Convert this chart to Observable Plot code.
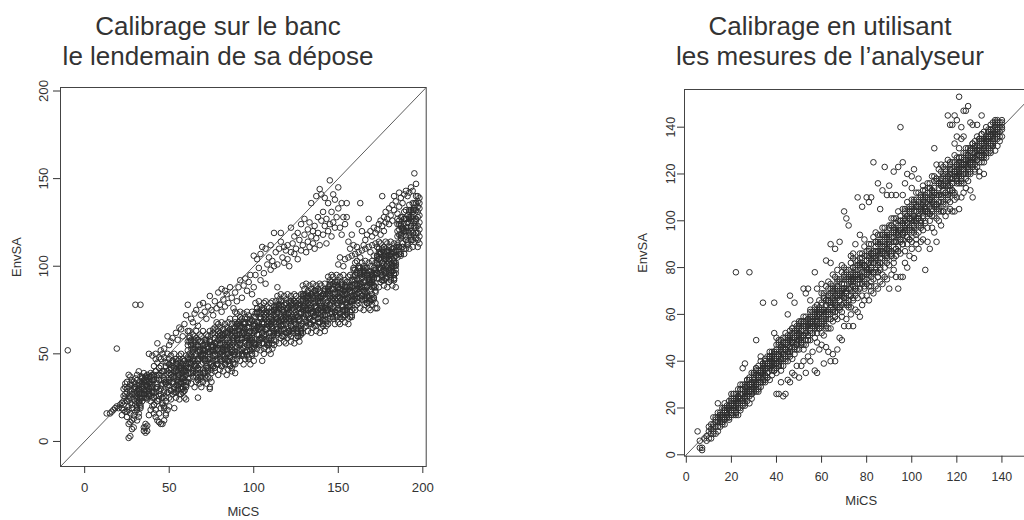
<!DOCTYPE html>
<html><head><meta charset="utf-8">
<script src="https://cdn.jsdelivr.net/npm/d3@7"></script>
<script src="https://cdn.jsdelivr.net/npm/@observablehq/plot@0.6"></script>
<style>
html,body{margin:0;padding:0;background:#fff;overflow:hidden;width:1024px;height:520px;}
#page{position:relative;width:1024px;height:520px;overflow:hidden;font-family:"Liberation Sans",Arial,Helvetica,sans-serif;}
.title{position:absolute;top:11px;width:400px;text-align:center;font-size:26px;line-height:30px;color:#333;}
.panel{position:absolute;top:80px;}
.panel svg{max-width:none !important;}
</style></head><body><div id="page">
<div class="title" id="t1" style="left:18px"></div>
<div class="title" id="t2" style="left:630px"></div>
<div class="panel" id="left" style="left:0;width:470px"></div>
<div class="panel" id="right" style="left:600px;width:450px"></div>
</div>
<script>
const titleLeft = ["Calibrage sur le banc", "le lendemain de sa dépose"];
const titleRight = ["Calibrage en utilisant", "les mesures de l’analyseur"];
const xLabel = "MiCS";
const yLabel = "EnvSA";
const leftTicks = [0, 50, 100, 150, 200];
const rightTicks = [0, 20, 40, 60, 80, 100, 120, 140];

// Each column: [MiCS, EnvSA values read around that MiCS value...]
const leftColumns = [
[-10,52],[13,16],[15,16],[16,17],[17,18],[18,19],[19,20,53],[20,19],[21,21],
[22,15,22,19],[23,23,26,30,21,18],[24,27,33,17,25,31],[25,23,30,17,28,34,14],[26,24,20,31,26,18,2,10,38],
[27,33,22,29,16,25,3,11,37],[28,35,27,19,21,32,7,12],[29,30,15,28,24,34,8,13],[30,17,31,23,26,33,78,36],
[31,20,25,29,18,35,12,38],[32,22,27,16,32,30,14,40],[33,19,24,28,34,21,78,37],[34,31,36,23,37,32,27],
[35,29,25,34,39,27,6,8],[36,33,37,25,29,35,5,8,10],[37,31,38,24,36,32,6,9],[38,26,33,37,30,28,15,50],
[39,39,23,33,37,34,18],[40,29,25,31,35,38,20,49],[41,25,38,21,43,35,16],[42,28,47,18,40,50,14],
[43,23,31,36,45,33,12,56],[44,26,42,16,48,38,11],[45,19,43,30,35,47,10,52],[46,25,33,40,21,50,10],
[47,40,19,35,48,28,12,53],[48,16,43,33,25,45,15],[49,40,28,50,36,32,60,18],[50,44,47,25,41,34,55,20],
[51,29,38,49,24,42,57],[52,46,33,37,27,45,59],[53,40,30,50,28,36,19],[54,41,47,32,44,25,62],
[55,37,46,29,40,34,58],[56,49,24,42,38,27,65],[57,45,33,50,30,41,64],[58,36,47,28,37,44,60],
[59,32,40,25,46,29,67],[60,49,38,34,42,24,72],[61,57,52,34,47,63,78],[62,39,50,42,60,36,63],
[63,55,45,33,58,49,70],[64,41,61,37,52,47,68],[65,31,57,44,53,60,73],[66,34,50,39,63,45,75],
[67,58,42,36,55,47,25,66],[68,61,33,52,41,57,78],[69,49,37,60,44,31,72],[70,53,50,63,34,45,79],
[71,58,55,39,47,52,74],[72,42,61,36,57,33,70],[73,49,60,41,53,37,77],[74,50,63,31,47,58,83,30],
[75,44,55,34,52,61,75],[76,52,46,62,55,43,72],[77,65,49,59,40,53,80],[78,68,56,44,47,64,76],
[79,61,38,58,52,67,85],[80,41,62,50,55,65,78],[81,46,53,59,43,68,87,74],[82,49,56,40,64,61,81],
[83,44,52,58,67,47,86,77],[84,53,62,38,65,55,84],[85,50,41,59,68,46,79],[86,56,64,43,49,61,88,70],
[87,53,67,40,62,55,82],[88,44,58,65,52,47,76],[89,74,44,62,70,65,85,39],[90,56,47,59,67,73,80],
[91,52,64,49,68,61,88],[92,55,71,46,65,74,92],[93,50,58,62,70,59,82],[94,53,67,44,73,63,89],
[95,47,68,56,61,71,93],[96,52,59,65,49,74,86],[97,65,47,60,72,55,91],[98,44,68,59,52,70,95],
[99,62,49,74,58,53,84],[100,67,71,46,63,56,106,88],[101,56,67,79,50,71,95],[102,76,61,65,53,74,104],
[103,68,58,80,55,64,99],[104,70,77,59,73,52,107,92],[105,65,76,56,68,62,111,46],[106,79,50,71,67,53,96],
[107,74,61,80,58,70,110,90],[108,64,77,55,65,73,101],[109,59,68,52,76,56,105],[110,79,67,62,71,50,98,112],
[111,74,70,53,65,80,103],[112,58,68,61,77,55,119,100],[113,77,69,57,80,71,108],[114,64,83,62,74,70,101,88],
[115,56,78,67,76,81,110],[116,59,73,63,84,69,114,119],[117,80,66,60,77,70,105],[118,83,57,74,64,78,102,111],
[119,71,62,81,67,56,109],[120,76,73,84,59,69,112,104],[121,80,77,63,70,74,100],[122,66,83,60,78,57,122,108],
[123,71,81,64,76,62,113],[124,73,84,56,70,80,107,117],[125,67,77,59,74,83,110],[126,69,63,78,71,60,104,119],
[127,81,66,76,57,70,115],[128,84,73,62,64,80,109,124],[129,83,62,80,75,89,112],[130,65,84,73,77,87,118,127],
[131,69,76,82,66,90,108],[132,72,79,63,86,83,121,114],[133,68,75,80,89,70,111,125],[134,76,84,62,87,77,136,117],
[135,73,65,82,90,69,113,120],[136,79,86,66,72,83,123,110],[137,76,89,63,84,77,140,116],[138,68,80,87,75,70,119,128],
[139,90,62,79,86,82,144,112],[140,73,65,76,83,89,126,141],[141,69,80,66,84,77,118,131],[142,72,87,63,82,90,139,123],
[143,68,75,79,86,76,113,127],[144,75,88,67,94,85,136,120],[145,70,89,78,82,92,149,124],[146,74,81,87,71,95,131,117],
[147,87,70,82,94,77,141,125],[148,67,89,81,74,91,122,138],[149,84,71,95,80,75,128],[150,88,92,68,85,78,133,145,101],
[151,73,82,94,67,87,122,105],[152,91,77,81,70,89,118,136],[153,84,74,95,71,80,128,100],[154,85,92,75,88,68,124,104],
[155,81,91,73,84,78,128,136],[156,94,67,87,82,70,114,105],[157,89,77,95,74,85,110],[158,80,92,71,81,88,106,118],
[159,83,92,76,99,81,112],[160,102,90,86,95,75,107],[161,97,93,78,89,103,111],[162,82,92,85,100,79,108,124],
[163,96,88,76,99,90,105,136],[164,83,102,81,93,89,109,120],[165,75,97,86,95,100,112],[166,78,92,82,103,88,110,115],
[167,99,85,79,96,89,118],[168,102,76,93,83,97,111,127],[169,90,81,100,86,75,108,120],[170,95,92,103,78,88,112,117],
[171,99,96,82,89,93,106,122],[172,85,102,79,97,76,113,119],[173,102,111,96,106,93,76,121],[174,104,114,88,101,110,124],
[175,98,108,91,105,113,126,118],[176,100,94,109,102,92,140,123],[177,111,97,106,89,101,128,120],[178,114,104,93,96,110,80,125,131],
[179,108,88,105,100,113,127],[180,91,109,98,102,111,133,124],[181,95,101,106,92,114,129],[182,97,104,89,110,108,135,126],
[183,93,100,105,113,96,132,140,92],[184,101,109,88,111,102,137],[185,113,105,120,127,109,130],[186,118,124,107,111,121,134,142],
[187,117,128,106,124,118,139],[188,111,122,128,117,113,136],[189,131,107,121,127,124,141],[190,117,110,120,127,132,143],
[191,114,125,112,129,122,140],[192,118,132,110,127,135,142],[193,115,122,126,132,123,145],[194,119,131,111,136,128,143],
[195,114,133,122,126,136,153],[196,119,126,132,116,140,147],[197,111,115,119,123,128,131,134,137,140],[198,113,117,121,125,129,133,136,139]
];

// Extra readings in the darkest part of the lower band
const leftCore = [
[30,27,21,31],[31,19,28,24],[32,30,23,32],[33,20,25,29],[34,36,25,33],[35,30,35,27],[36,32,28,37],[37,25,34,29],
[38,34,30,27],[39,37,26,31],[40,28,33,35],[41,37,28,21],[42,30,40,26],[43,23,31,38],[44,35,24,29],[45,27,39,32],
[46,40,25,22],[47,29,36,20],[48,33,23,34],[49,28,45,38],[50,39,32,44],[51,29,41,36],[52,43,34,46],[53,31,37,42],
[54,45,28,40],[55,35,44,30,39,32],[56,38,33,47,34,43],[57,27,42,34,43,36],[58,41,36,31,30,39],[59,46,29,37,41,35],[60,32,40,43,31,44],[61,55,45,36,48,42],
[62,47,59,42,57,45],[63,39,48,57,44,53],[64,53,40,46,51,39],[65,43,58,49,46,54],[66,59,41,37,55,43],[67,46,54,35,41,47],[68,51,39,52,49,37],[69,36,57,48,53,50],
[70,49,41,55,39,52],[71,37,52,46,47,40],[72,54,43,58,56,46],[73,40,47,53,42,51],[74,57,36,51,45,57],[75,45,55,39,54,41],[76,54,49,64,43,54],[77,42,59,50,56,61],
[78,57,52,46,49,44],[79,63,44,53,58,53],[80,48,56,60,56,47],[81,61,51,43,49,61],[82,53,64,49,60,52],[83,45,54,62,44,55],[84,59,46,52,58,50],[85,50,63,55,46,62],
[86,64,48,44,54,48],[87,52,60,42,63,51],[88,56,45,57,50,59],[89,49,68,60,63,51],[90,61,54,67,58,66],[91,50,63,58,67,55],[92,66,56,69,53,59],[93,52,59,65,61,49],
[94,68,49,62,65,62],[95,57,67,51,51,64],[96,60,55,70,59,52],[97,48,65,56,68,58],[98,63,58,52,54,63],[99,69,50,59,57,69],[100,54,62,66,66,53],[101,73,63,55,55,66],
[102,65,76,61,68,73],[103,57,66,74,61,56],[104,71,58,64,70,65],[105,62,75,67,68,59],[106,76,60,56,61,73],[107,64,72,54,72,64],[108,68,57,69,56,67],[109,55,74,66,70,62],
[110,67,60,73,58,74],[111,56,69,64,66,60],[112,72,62,75,75,63],[113,64,70,75,67,76],[114,78,61,73,74,62],[115,68,77,63,69,77],[116,71,66,80,78,66],[117,60,75,67,64,70],
[118,74,69,64,72,60],[119,79,62,70,76,73],[120,65,73,76,62,75],[121,77,68,61,70,63],[122,70,80,66,79,69],[123,63,71,78,65,74],[124,75,64,69,68,80],[125,67,79,72,77,64],
[126,80,65,62,60,71],[127,69,76,60,73,78],[128,73,63,74,66,61],[129,67,84,77,81,76],[130,78,71,83,79,70],[131,68,80,75,72,84],[132,82,73,85,83,75],[133,70,76,81,67,78],
[134,84,67,79,81,73],[135,74,83,69,69,85],[136,77,72,86,77,71],[137,66,81,73,86,74],[138,80,75,70,73,82],[139,85,68,76,80,68],[140,71,79,82,75,83],[141,83,74,67,84,72],
[142,76,86,72,70,76],[143,69,77,84,78,66],[144,86,75,80,87,84],[145,78,90,83,73,86],[146,91,76,73,81,74],[147,80,87,71,90,80],[148,84,74,85,76,85],[149,72,89,82,79,91],
[150,83,76,88,88,75],[151,73,85,80,71,82],[152,87,78,90,84,89],[153,75,81,86,77,72],[154,89,72,84,86,81],[155,79,88,74,84,75],[156,82,77,91,77,89],[157,71,86,78,88,80],
[158,85,80,75,72,83],[159,98,81,89,94,86],[160,84,92,95,82,98],[161,96,87,80,90,84],[162,89,99,85,99,87],[163,82,90,97,86,95],[164,94,83,88,93,81],[165,86,98,91,88,96],
[166,99,84,81,97,85],[167,88,95,79,83,89],[168,92,82,93,91,79],[169,80,97,90,95,92],[170,91,84,96,81,94],[171,81,93,88,89,82],[172,95,86,98,98,88],[173,96,101,106,96,105],
[174,108,93,104,99,110],[175,99,107,95,107,96],[176,102,97,110,92,102],[177,92,106,98,104,108],[178,105,100,96,97,93],[179,109,94,101,106,101],[180,97,104,106,104,96],[181,107,99,93,97,108],
[182,101,110,97,107,100],[183,95,102,108,93,103],[184,106,96,100,106,98],[185,112,124,117],[186,126,111,108],[187,116,123,107],[188,121,111,122],[189,110,127,120],
[190,122,115,127],[191,113,125,120],[192,128,119,131],[193,117,123,128],[194,132,115,127],[195,123,132,118],[196,127,122,136]
];

const rightColumns = [
[5,10],[6,6,3],[7,2,3],[8,7],[9,8,6],
[10,12,7,10],[11,7,13,11,9],[12,13,9,16,12,10],[13,15,16,9,14,12],[14,12,14,18,10,16,22],
[15,18,14,15,12,17],[16,17,14,20,13,16],[17,18,20,15,19,13,22],[18,18,21,16,19,17],[19,23,15,21,19,16],
[20,24,18,26,17,22],[21,20,26,17,21,24],[22,20,23,17,26,18,78],[23,28,24,22,25,17],[24,28,26,19,24,30],
[25,22,26,23,30,21,37],[26,29,25,21,30,27,39],[27,25,32,23,29,27],[28,22,32,27,30,33,78],[29,24,30,26,35,28],
[30,35,29,27,34,31],[31,37,27,34,30,36,49],[32,34,29,38,32,27],[33,36,35,40,29,33,42],[34,39,38,32,35,37,65],
[35,34,41,32,40,31],[36,38,42,35,39,33],[37,39,44,32,38,42],[38,38,42,34,41,44],[39,39,37,44,41,36,52,65],
[40,47,39,44,35,41,50,26],[41,49,43,38,39,47,26],[42,47,36,45,42,49,31],[43,38,48,43,45,50,25],[44,42,45,48,40,52,26],
[45,44,47,40,51,50,60,32],[46,43,46,49,53,44,68,31],[47,48,52,41,54,49,35],[48,48,43,52,56,46,65,34],[49,51,55,45,48,54,38],
[50,51,57,45,55,52,33],[51,47,53,57,50,48,38],[52,59,45,53,57,55,71,40],[53,52,47,53,57,59,69,35],[54,51,56,49,58,55,71,42],
[55,53,61,49,58,62,66,40],[56,52,55,57,61,56,44],[57,54,61,50,63,59,78,36],[58,52,62,57,59,64,71,35,48],[59,56,59,62,54,66,45],
[60,64,52,61,69,57,73,47],[61,51,67,61,56,68,39],[62,64,55,72,61,58,83,46],[63,68,71,54,66,61,74,44],[64,58,65,73,54,68,82,90,40],
[65,72,62,65,57,71,77,43],[66,68,61,76,59,65,88,40],[67,70,75,63,72,58,79,45],[68,68,75,62,70,66,91,50],[69,78,59,73,70,61,81,49],
[70,76,67,80,65,73,104,55],[71,70,79,64,71,76,101,58],[72,68,74,63,79,66,98,55],[73,82,74,71,77,63,85,60],[74,80,77,66,74,84,86,55],
[75,70,77,72,83,68,90,62],[76,81,75,67,83,77,110,61],[77,73,86,71,80,77,94,59],[78,68,84,76,82,86,106,64],[79,71,81,74,89,78,92,66],
[80,87,77,73,85,80,110,68],[81,90,72,84,77,87,108,66],[82,83,76,90,80,72,110,70],[83,87,85,93,75,82,125,69],[84,91,89,79,84,87,95,72],
[85,82,94,78,91,76,116,71],[86,87,94,82,90,80,105,74],[87,89,97,77,87,94,113,73],[88,86,93,80,91,97,123,76],[89,88,84,95,90,82,111,75],
[90,98,87,94,81,90,115,71],[91,101,93,85,87,98,111,77],[92,97,82,95,91,101,121,79],[93,85,99,91,94,101,111,76],[94,89,94,98,87,104,123,71],
[95,92,97,86,102,100,140,76],[96,90,95,99,105,92,125,111,76],[97,97,103,87,105,98,116,82],[98,96,90,102,108,93,120,80],[99,101,106,92,96,104,85],
[100,100,109,91,106,101,119,114,88],[101,95,104,109,100,97,122,84],[102,112,92,104,109,106,90],[103,101,95,103,108,112,118,88],[104,99,107,97,110,105,91],
[105,102,113,96,109,115,92],[106,100,105,108,113,106,79],[107,103,112,97,116,110,91],[108,100,114,106,109,116,88],[109,104,109,113,102,119,97],
[110,114,102,111,119,107,131,95],[111,101,117,111,106,118,124,91],[112,114,105,122,111,108,100],[113,118,121,104,116,111,124,98],[114,108,115,123,104,118,104],
[115,122,112,115,107,121,124,102],[116,118,111,126,109,115,145,104],[117,120,125,113,122,108,141,105],[118,118,125,112,120,116,141,104],[119,128,109,123,120,111,145,133,104],
[120,124,118,127,117,122,136,143,110],[121,120,127,116,121,125,131,153,105],[122,119,123,116,127,118,140,135,110],[123,129,124,122,126,116,136,147,112],[124,128,126,118,124,131,147,114],
[125,122,126,123,131,120,149,117],[126,130,125,120,131,127,142,113],[127,124,133,123,129,127,141,110],[128,121,132,127,131,134,122],[129,123,130,126,136,128,141],
[130,135,128,125,134,130,119,121],[131,137,125,133,128,135,145],[132,133,128,138,131,125,120],[133,136,134,140,127,132],[134,139,138,131,134,136],
[135,133,141,130,139,129],[136,137,142,133,139,132],[137,138,143,130,137,141],[138,137,142,132,140,143],[139,138,136,142,140,134],
[140,143,139,142,136,140]
];

// Extra readings in the dense core along the diagonal
const rightCore = [
[15,16,14,17],[16,14,17,16],[17,19,16,20],[18,16,18,20],[19,21,16,20],[20,19,23,17,21,18],[21,21,19,26,20,23],[22,18,24,21,24,22],
[23,25,23,20,20,24],[24,28,20,24,26,23],[25,23,26,28,23,28],[26,29,25,22,26,24],[27,27,32,25,30,26],[28,25,28,32,27,30],[29,31,26,29,30,27],[30,30,35,32,31,33],
[31,37,30,28,34,31],[32,33,36,28,31,33],[33,35,31,36,35,31],[34,31,39,35,37,36],[35,37,34,39,34,38],[36,33,39,37,37,35],[37,41,37,42,41,38],[38,36,39,41,38,40],
[39,44,36,41,39,43],[40,40,45,37,43,39],[41,43,40,48,38,42],[42,38,46,41,44,46],[43,46,43,41,43,41],[44,50,41,45,47,45],[45,43,48,49,47,44],[46,51,46,42,46,50],
[47,48,54,46,50,48],[48,45,50,53,46,50],[49,53,47,49,52,49],[50,49,56,52,49,54],[51,57,48,47,51,49],[52,51,55,47,56,51],[53,55,49,55,52,55],[54,49,58,55,55,51],
[55,56,52,59,55,57],[56,52,58,55,59,55],[57,60,55,62,55,57],[58,55,58,61,59,54],[59,63,54,61,61,60],[60,58,65,55,56,62],[61,62,58,69,61,57],[62,54,66,60,66,61],
[63,66,62,58,60,65],[64,71,58,64,63,69],[65,61,67,70,68,62],[66,71,64,59,61,66],[67,67,74,64,68,71],[68,63,69,74,66,63],[69,73,64,68,71,69],[70,68,77,71,71,67],
[71,78,67,65,69,75],[72,71,76,64,75,71],[73,75,68,76,68,74],[74,67,80,75,76,72],[75,76,71,80,71,79],[76,70,79,75,76,73],[77,81,75,84,82,76],[78,73,78,82,76,81],
[79,85,72,81,81,75],[80,78,85,75,79,83],[81,82,78,88,85,79],[82,74,86,80,79,82],[83,86,82,78,84,78],[84,91,78,84,87,85],[85,81,87,90,81,87],[86,91,84,79,86,82],
[87,87,94,84,91,86],[88,83,89,94,85,90],[89,93,85,88,88,94],[90,88,97,91,93,87],[91,98,87,85,86,91],[92,91,96,84,93,96],[93,95,88,96,91,88],[94,87,100,95,96,94],
[95,96,91,100,96,92],[96,90,99,95,94,100],[97,101,95,104,100,96],[98,93,98,102,93,99],[99,105,92,101,101,97],[100,98,105,95,96,104],[101,102,98,108,101,98],[102,94,106,100,107,101],
[103,106,102,98,101,106],[104,111,98,104,106,100],[105,101,107,110,104,108],[106,111,104,99,110,104],[107,107,114,104,104,107],[108,103,109,114,109,103],[109,113,105,108,112,110],[110,108,117,112,106,112],
[111,118,107,105,111,107],[112,111,116,104,116,111],[113,115,108,116,110,115],[114,107,120,115,113,119],[115,117,111,120,118,112],[116,110,119,115,111,116],[117,122,115,124,118,121],[118,113,118,122,116,113],
[119,125,112,121,121,119],[120,119,124,116,121,118],[121,122,119,127,120,124],[122,117,125,120,124,122],[123,125,122,120,120,124],[124,129,120,124,126,123],[125,122,127,128,123,128],[126,130,125,121,126,124],
[127,127,133,125,131,126],[128,124,129,132,127,130],[129,132,126,128,130,126],[130,128,135,131,130,132],[131,137,128,127,134,130],[132,131,135,127,130,132],[133,135,129,135,134,130],[134,129,138,135,136,135],
[135,136,132,139,132,137],[136,132,138,135,136,134],[137,140,135,142,140,137],[138,135,138,141,136,139]
];

const toPoints = cols => cols.flatMap(([x, ...ys]) => ys.map(y => ({mics: x, envsa: y})));

document.getElementById("t1").innerHTML = titleLeft.join("<br>");
document.getElementById("t2").innerHTML = titleRight.join("<br>");

function panel(o) {
  const ink = "#333";
  return Plot.plot({
    width: o.width, height: 440,
    marginLeft: o.ml, marginRight: o.mr, marginTop: o.mt, marginBottom: o.mb,
    style: {fontFamily: '"Liberation Sans", Arial, Helvetica, sans-serif', fontSize: o.fs + "px", color: ink, background: "transparent", overflow: "visible", maxWidth: "none"},
    x: {domain: o.xd, ticks: o.ticks},
    y: {domain: o.yd, ticks: o.ticks},
    marks: [
      Plot.frame({stroke: "#444", strokeWidth: 1}),
      Plot.link([o.xd], {x1: d => d[0], y1: d => d[0], x2: d => d[1], y2: d => d[1], stroke: ink, strokeWidth: 0.8, clip: true}),
      Plot.dot(toPoints(o.cols).concat(toPoints(o.core)), {x: "mics", y: "envsa", r: 2.8, stroke: "#2e2e2e", strokeWidth: 1, fill: "none"}),
      Plot.axisX(o.ticks, {tickSize: 7, tickPadding: o.tpx, label: null, fontSize: o.fs}),
      Plot.axisY(o.ticks, {tickSize: 7, tickPadding: o.tpy, tickRotate: -90, label: null, fontSize: o.fs}),
      Plot.text([xLabel], {frameAnchor: "bottom", dy: o.xlab, fontSize: 13, fill: ink}),
      Plot.text([yLabel], {frameAnchor: "left", dx: -o.ylab, rotate: -90, fontSize: 13, fill: ink})
    ]
  });
}

document.getElementById("left").append(panel({
  cols: leftColumns, core: leftCore, width: 470, ml: 60, mr: 44.3, mt: 7, mb: 54,
  xd: [-14.3, 202], yd: [-14.3, 202], ticks: leftTicks, fs: 13.2, tpx: 9, tpy: 6, xlab: 49, ylab: 44
}));
document.getElementById("right").append(panel({
  cols: rightColumns, core: rightCore, width: 450, ml: 84, mr: 12.5, mt: 9, mb: 64.3,
  xd: [-0.8, 156], yd: [-0.6, 156.1], ticks: rightTicks, fs: 12.4, tpx: 9, tpy: 3, xlab: 49, ylab: 42
}));
</script>
</body></html>
